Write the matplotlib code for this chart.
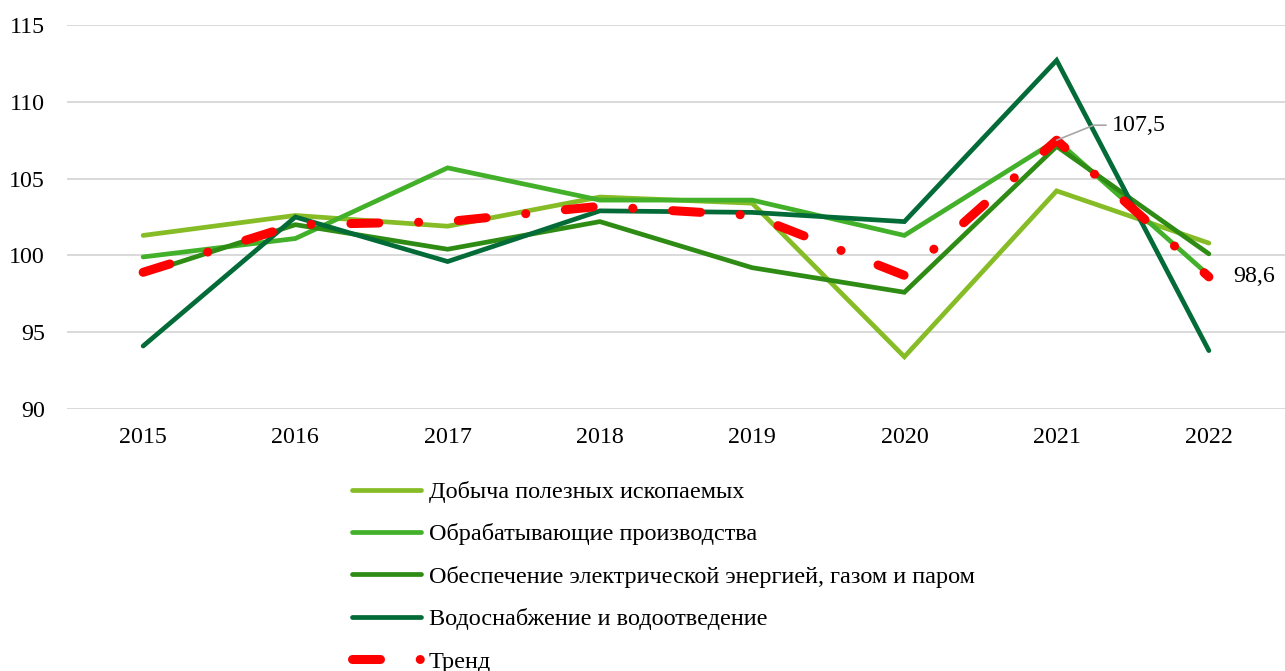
import matplotlib.pyplot as plt

plt.rcParams['font.family'] = ['Liberation Serif', 'DejaVu Serif']

years = ['2015', '2016', '2017', '2018', '2019', '2020', '2021', '2022']

dobycha = [101.3, 102.6, 101.9, 103.8, 103.4, 93.4, 104.2, 100.8]
obrab = [99.9, 101.1, 105.7, 103.6, 103.6, 101.3, 107.5, 98.7]
energo = [98.8, 102.0, 100.4, 102.2, 99.2, 97.6, 107.1, 100.1]
voda = [94.1, 102.5, 99.6, 102.9, 102.8, 102.2, 112.7, 93.8]
trend = [98.9, 102.0, 102.2, 103.2, 102.6, 98.7, 107.5, 98.6]

names = ['Добыча полезных ископаемых',
         'Обрабатывающие производства',
         'Обеспечение электрической энергией, газом и паром',
         'Водоснабжение и водоотведение']
colors = ['#86bc25', '#43b02a', '#2e8b14', '#036b38']
series = [dobycha, obrab, energo, voda]

fig = plt.figure(figsize=(12.85, 6.71), dpi=100)
ax = fig.add_axes([67 / 1285, 1 - 409 / 671, 1 - 67 / 1285, (409 - 25) / 671])

x = list(range(len(years)))
for s, c, n in zip(series, colors, names):
    ax.plot(x, s, color=c, lw=3.4, label=n, solid_capstyle='round', solid_joinstyle='miter')

ax.plot(x, trend, color='#ff0000', lw=6.5, label='Тренд',
        dashes=(3.1, 4.4, 0.01, 4.4), dash_capstyle='round')

ax.set_xlim(-0.5, 7.5)
ax.set_ylim(90, 115)
ax.set_yticks([90, 95, 100, 105, 110, 115])
ax.set_xticks(x)
ax.set_xticklabels(years)
ax.tick_params(axis='both', length=0, labelsize=17.3)
ax.tick_params(axis='y', pad=16)
ax.tick_params(axis='x', pad=13)
ax.grid(axis='y', color='#d9d9d9', lw=1.4)
ax.set_axisbelow(True)
for sp in ax.spines.values():
    sp.set_visible(False)

ax.annotate('107,5', xy=(6, trend[6]), xytext=(55, 15), textcoords='offset pixels',
            fontsize=17.3, va='center', ha='left',
            arrowprops=dict(arrowstyle='-', color='#a6a6a6', lw=1.2,
                            shrinkA=2, shrinkB=0,
                            connectionstyle='angle,angleA=0,angleB=22,rad=0'))
ax.annotate('98,6', xy=(7, trend[7]), xytext=(24, 0), textcoords='offset pixels',
            fontsize=17.3, va='center', ha='left')

leg = fig.legend(loc='upper left', bbox_to_anchor=(352 / 1285, 1 - 481 / 671),
                 frameon=False, fontsize=17.5, handlelength=2.85, handletextpad=0.3,
                 labelspacing=0.84, borderpad=0, borderaxespad=0)

fig.savefig('out.png', dpi=100)
